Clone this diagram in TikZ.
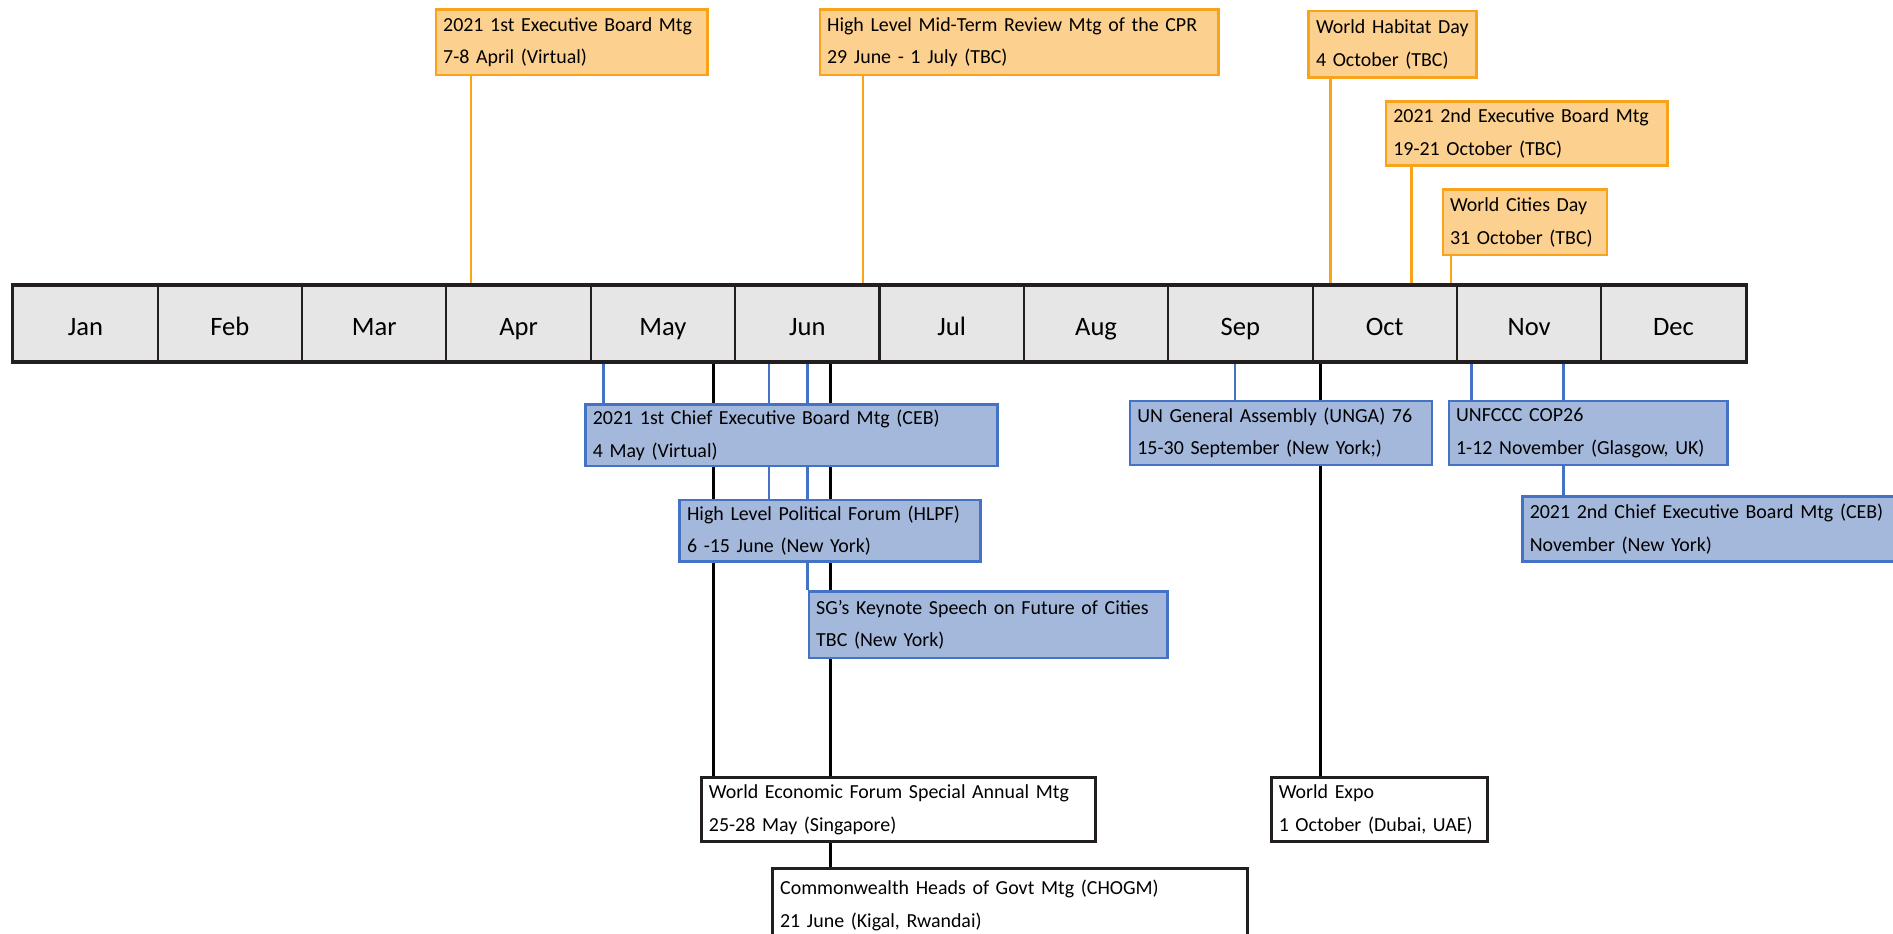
\documentclass[tikz,border=0pt]{standalone}
\usepackage{fontspec}
\setmainfont{Carlito}
\usetikzlibrary{backgrounds}

\definecolor{barfill}{RGB}{230,230,230}
\definecolor{barline}{RGB}{35,31,32}
\definecolor{orfill}{RGB}{252,208,143}
\definecolor{orline}{RGB}{248,163,27}
\definecolor{blfill}{RGB}{164,184,220}
\definecolor{blline}{RGB}{68,114,196}

\tikzset{
	month/.style={draw=barline, fill=barfill, line width=1.8pt, minimum width=119.58pt, minimum height=62pt, inner sep=0pt, text height=19pt, text depth=0pt, font=\fontsize{22}{24}\selectfont},
	evbox/.style={rectangle, anchor=north west, align=left, inner xsep=6pt, inner ysep=0pt, line width=2.2pt, font=\fontsize{16.5}{27}\selectfont},
	obox/.style={evbox, draw=orline, fill=orfill},
	bbox/.style={evbox, draw=blline, fill=blfill},
	kbox/.style={evbox, draw=barline, fill=white, line width=2.4pt},
	oline/.style={draw=orline, line width=2pt},
	bline/.style={draw=blline, line width=2pt},
	kline/.style={draw=black, line width=2.4pt}
}

\begin{document}
\begin{tikzpicture}[x=1pt, y=-1pt]
	\useasboundingbox (0,0) rectangle (1568,773);
	\clip (0,0) rectangle (1568,773);

	\foreach \m [count=\i] in {Jan,Feb,Mar,Apr,May,Jun,Jul,Aug,Sep,Oct,Nov,Dec}
		\node[month] (m\i) at ({11+(\i-0.5)*119.58},268) {\m};
	\draw[barline, line width=2.6pt] (m1.north west) rectangle (m12.south east);

	\node[obox, text width=213pt, minimum height=54pt] (eb1)   at (360,7)   {2021 1st Executive Board Mtg\\7-8 April (Virtual)};
	\node[obox, text width=318pt, minimum height=54pt] (cpr)   at (678,7)   {High Level Mid-Term Review Mtg of the CPR\\29 June - 1 July (TBC)};
	\node[obox, text width=127pt, minimum height=55pt] (whd)   at (1083,8)  {World Habitat Day\\4 October (TBC)};
	\node[obox, text width=221pt, minimum height=53pt] (eb2)   at (1147,83) {2021 2nd Executive Board Mtg\\19-21 October (TBC)};
	\node[obox, text width=124pt, minimum height=54pt] (wcd)   at (1194,156) {World Cities Day\\31 October (TBC)};

	\node[bbox, text width=329pt, minimum height=51pt] (ceb1)  at (484,334) {2021 1st Chief Executive Board Mtg (CEB)\\4 May (Virtual)};
	\node[bbox, text width=237pt, minimum height=51pt] (hlpf)  at (562,413) {High Level Political Forum (HLPF)\\6 -15 June (New York)};
	\node[bbox, text width=285pt, minimum height=55pt] (sg)    at (669,489) {SG's Keynote Speech on Future of Cities\\TBC (New York)};
	\node[bbox, text width=238pt, minimum height=53pt] (unga)  at (935,331) {UN General Assembly (UNGA) 76\\15-30 September (New York;)};
	\node[bbox, text width=219pt, minimum height=53pt] (cop)   at (1199,331) {UNFCCC COP26\\1-12 November (Glasgow, UK)};
	\node[bbox, text width=318pt, minimum height=54pt] (ceb2)  at (1260,410) {2021 2nd Chief Executive Board Mtg (CEB)\\November (New York)};

	\node[kbox, text width=314pt, minimum height=53pt] (wef)   at (580,643) {World Economic Forum Special Annual Mtg\\25-28 May (Singapore)};
	\node[kbox, text width=381pt, minimum height=62pt] (chogm) at (639,718) {Commonwealth Heads of Govt Mtg (CHOGM)\\21 June (Kigal, Rwandai)};
	\node[kbox, text width=167pt, minimum height=53pt] (expo)  at (1052,643) {World Expo\\1 October (Dubai, UAE)};

	\coordinate (o1) at (390,237);
	\coordinate (o2) at (715,237);
	\coordinate (o3) at (1102,237);
	\coordinate (o4) at (1169,237);
	\coordinate (o5) at (1202,237);
	\coordinate (b1) at (500,299);
	\coordinate (b2) at (637,299);
	\coordinate (b3) at (669,299);
	\coordinate (b4) at (1023,299);
	\coordinate (b5) at (1219,299);
	\coordinate (b6) at (1295,299);
	\coordinate (k1) at (591,299);
	\coordinate (k2) at (688,299);
	\coordinate (k3) at (1094,299);

	\begin{pgfonlayer}{background}
		\draw[oline] (o1) -- (o1 |- eb1.south);
		\draw[oline] (o2) -- (o2 |- cpr.south);
		\draw[oline] (o3) -- (o3 |- whd.south);
		\draw[oline] (o4) -- (o4 |- eb2.south);
		\draw[oline] (o5) -- (o5 |- wcd.south);
		\draw[bline] (b1) -- (b1 |- ceb1.north);
		\draw[bline] (b2) -- (b2 |- hlpf.north);
		\draw[bline] (b3) -- (b3 |- sg.north);
		\draw[bline] (b4) -- (b4 |- unga.north);
		\draw[bline] (b5) -- (b5 |- cop.north);
		\draw[bline] (b6) -- (b6 |- ceb2.north);
		\draw[kline] (k1) -- (k1 |- wef.north);
		\draw[kline] (k2) -- (k2 |- chogm.north);
		\draw[kline] (k3) -- (k3 |- expo.north);
	\end{pgfonlayer}
\end{tikzpicture}
\end{document}
